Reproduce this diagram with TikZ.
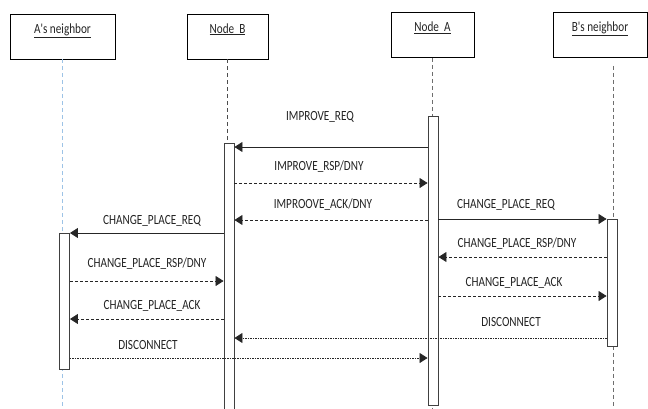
\documentclass[tikz,border=0pt]{standalone}
\usepackage{fontspec}
\newfontfamily\seqfont{Carlito}[FakeStretch=0.8]
\usepackage{tikz}
\usetikzlibrary{arrows.meta,positioning,calc}
\definecolor{lifegray}{RGB}{110,110,110}
\definecolor{lifeblue}{RGB}{157,195,230}
\definecolor{txtgray}{RGB}{35,35,35}

\begin{document}
\begin{tikzpicture}[x=1pt,y=-1pt,
    every node/.style={font=\seqfont\fontsize{14}{16}\selectfont,text=txtgray},
    actor/.style={draw,line width=0.9pt,minimum height=45,text height=10pt,text depth=17pt,inner sep=0pt},
    bar/.style={draw=black!75,fill=white,line width=0.9pt,minimum width=10,anchor=north,inner sep=0pt},
    life/.style={lifegray,line width=0.8pt,dash pattern=on 4pt off 3pt},
    msg/.style={inner sep=0pt},
    req/.style={-{Triangle[length=8pt,width=10pt]},black!85,line width=0.8pt},
    rsp/.style={req,dash pattern=on 3pt off 2pt},
    dis/.style={req,dash pattern=on 1.5pt off 1pt}]
  \useasboundingbox (0,0) rectangle (648,408);
  \coordinate (bottom) at (0,410);

  % participants
  \node[actor,minimum width=105] (an) at (62.5,36.5) {\underline{A's neighbor}};
  \node[actor,minimum width=81] (nb) at (227.5,36.5) {\underline{Node\ \ B}};
  \node[actor,minimum width=83] (na) at (432.5,35) {\underline{Node\ \ A}};
  \node[actor,minimum width=94] (bnb) at (600,35) {\underline{B's neighbor}};

  % lifelines and activations
  \draw[life,lifeblue] (an.south) -- (an.south |- bottom);
  \draw[life,black!70] (nb.south) -- (nb.south |- bottom);
  \draw[life] (na.south) -- (na.south |- bottom);
  \draw[life] ([xshift=13pt,yshift=-8pt]bnb.south) -- ([xshift=13pt]bnb.south |- bottom);

  \node[bar,minimum height=289] (barA) at (433,116) {};
  \node[bar,minimum height=270] (barB) at (229,143) {};
  \node[bar,minimum height=127] (barBN) at (612,219) {};
  \node[bar,minimum height=136] (barAN) at (64.5,233) {};

  \foreach \n/\y in {r1/147,r2/183,r3/220,r4/219,r5/233,r6/257,r7/281,r8/296,r9/319,r10/338,r11/358}
    \coordinate (\n) at (0,\y);

  % messages
  \draw[req] (barA.west |- r1) -- (barB.east |- r1);
  \draw[rsp] (barB.east |- r2) -- (barA.west |- r2);
  \draw[rsp] (barA.west |- r3) -- (barB.east |- r3);
  \draw[req] (barA.east |- r4) -- (barBN.west |- r4);
  \draw[req] (barB.west |- r5) -- (barAN.east |- r5);
  \draw[rsp] (barBN.west |- r6) -- (barA.east |- r6);
  \draw[rsp] (barAN.east |- r7) -- (barB.west |- r7);
  \draw[rsp] (barA.east |- r8) -- (barBN.west |- r8);
  \draw[rsp] (barB.west |- r9) -- (barAN.east |- r9);
  \draw[dis] (barBN.west |- r10) -- (barB.east |- r10);
  \draw[dis] (barAN.east |- r11) -- (barA.west |- r11);

  \node[msg] (t1) at (320,117) {IMPROVE\_REQ};
  \node[msg] (t2) at (319,167) {IMPROVE\_RSP/DNY};
  \node[msg] (t3) at (323,205) {IMPROOVE\_ACK/DNY};
  \node[msg] (t4) at (506,205) {CHANGE\_PLACE\_REQ};
  \node[msg] (t5) at (152,221) {CHANGE\_PLACE\_REQ};
  \node[msg] (t6) at (517,244) {CHANGE\_PLACE\_RSP/DNY};
  \node[msg] (t7) at (147,264) {CHANGE\_PLACE\_RSP/DNY};
  \node[msg] (t8) at (514,283) {CHANGE\_PLACE\_ACK};
  \node[msg] (t9) at (152,306) {CHANGE\_PLACE\_ACK};
  \node[msg] (t10) at (511,322) {DISCONNECT};
  \node[msg] (t11) at (148,345) {DISCONNECT};
\end{tikzpicture}
\end{document}
